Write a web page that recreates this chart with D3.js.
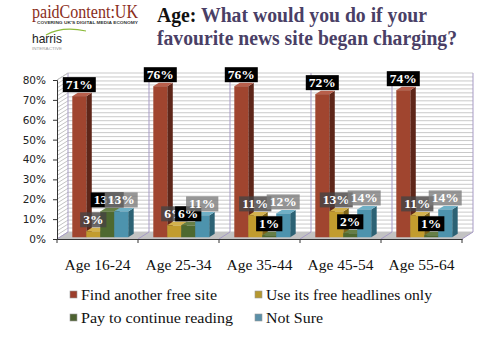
<!DOCTYPE html>
<html><head><meta charset="utf-8">
<script src="https://cdn.jsdelivr.net/npm/d3@7"></script>
<style>body{margin:0;background:#fff}svg{display:block}</style>
</head><body>
<svg id="c" width="500" height="339"></svg>
<script>
const categories = ["Age 16-24","Age 25-34","Age 35-44","Age 45-54","Age 55-64"];
const seriesNames = ["Find another free site","Use its free headlines only","Pay to continue reading","Not Sure"];
const findAnother = [71,76,76,72,74];
const headlinesOnly = [3,6,11,13,11];
const payToContinue = [13,6,1,2,1];
const notSure = [13,11,12,14,14];
const yTicks = [0,10,20,30,40,50,60,70,80];
const yTickLabels = ["0%","10%","20%","30%","40%","50%","60%","70%","80%"];

const SERIF = "'Liberation Serif','Times New Roman',serif";
const seriesValues = [findAnother, headlinesOnly, payToContinue, notSure];
const colors = [
  {front:"#a0452f", side:"#5e2619", top:"#b85f4b", label:"#000"},
  {front:"#c29c2e", side:"#7f6418", top:"#d4b24e", label:"rgba(70,66,66,0.8)"},
  {front:"#4e6930", side:"#2e401a", top:"#667f46", label:"#000"},
  {front:"#4d93ad", side:"#2c6274", top:"#6fb0c6", label:"rgba(125,125,125,0.8)"}
];
const legendColors = ["#9c3e2c","#b69830","#4d6231","#5b90a8"];

const svg = d3.select("#c");
const DX = 11, DY = -7;
const x0 = d3.scaleBand().domain(categories).range([57, 462]);
const bw = x0.bandwidth();
const x1 = d3.scaleBand().domain(seriesNames).range([bw*0.155, bw*0.845]);
const y = d3.scaleLinear().domain([0, 80]).range([239, 80]);

function fit(sel, w){ const n = sel.node(); const cur = n.getComputedTextLength(); if (Math.abs(cur-w)>1.5) sel.attr("textLength", w).attr("lengthAdjust","spacingAndGlyphs"); }

const g = svg.append("g");
const wallL = x0.range()[0] + DX, wallR = x0.range()[1] + DX;
g.append("rect").attr("x", wallL).attr("y", y(80)+DY).attr("width", wallR-wallL).attr("height", y(0)-y(80)).attr("fill","#fff");
const grid = d3.range(0, 80.01, 2);
g.selectAll(".gw").data(grid).enter().append("line")
  .attr("x1", wallL).attr("x2", wallR)
  .attr("y1", d=>y(d)+DY).attr("y2", d=>y(d)+DY)
  .attr("stroke","#c9c9c9").attr("stroke-width",1);
g.selectAll(".gl").data(grid).enter().append("line")
  .attr("x1", x0.range()[0]).attr("x2", wallL)
  .attr("y1", d=>y(d)).attr("y2", d=>y(d)+DY)
  .attr("stroke","#c4c4c4").attr("stroke-width",1);
const fl = x0.range()[0], fr = x0.range()[1];
g.append("path").attr("d", `M${fl},${y(0)}L${fr},${y(0)}L${fr+DX},${y(0)+DY}L${fl+DX},${y(0)+DY}Z`)
  .attr("fill","#c3c3c3");
const bounds = categories.map(c=>x0(c)).concat([fr]);
g.selectAll(".vb").data(bounds).enter().append("line")
  .attr("x1", d=>d+DX).attr("x2", d=>d+DX)
  .attr("y1", y(0)+DY).attr("y2", y(80)+DY)
  .attr("stroke","#a79bc6").attr("stroke-width",1);
g.selectAll(".fb").data(bounds).enter().append("line")
  .attr("x1", d=>d).attr("x2", d=>d+DX)
  .attr("y1", y(0)).attr("y2", y(0)+DY)
  .attr("stroke","#a79bc6").attr("stroke-width",1);
g.append("line").attr("x1",fl).attr("y1",y(80)).attr("x2",wallL).attr("y2",y(80)+DY).attr("stroke","#c4c4c4");

const yAxis = d3.axisLeft(y).tickValues(yTicks).tickFormat((d,i)=>yTickLabels[i]).tickSize(4).tickPadding(7);
const ya = svg.append("g").attr("transform",`translate(${fl},0)`).call(yAxis);
ya.attr("font-family",null).attr("font-size",null);
ya.select(".domain").attr("stroke","#333");
ya.selectAll(".tick line").attr("stroke","#333");
ya.selectAll("text").style("font-family","'DejaVu Sans',sans-serif").style("font-size","10.5px").attr("fill","#222");

const xAxis = d3.axisBottom(x0).tickSize(0).tickPadding(20);
const xa = svg.append("g").attr("transform",`translate(0,${y(0)})`).call(xAxis);
xa.attr("font-family",null).attr("font-size",null);
xa.select(".domain").attr("stroke","#333");
xa.selectAll("text").style("font-family",SERIF).style("font-size","15.5px").attr("fill","#111");
xa.selectAll(".bt").data(bounds).enter().append("line")
  .attr("x1",d=>d).attr("x2",d=>d).attr("y1",0).attr("y2",4).attr("stroke","#333");

const zx0 = DX*0.25, zy0 = DY*0.25, bdx = DX*0.5, bdy = DY*0.5;
const labels = [];
categories.forEach((cat, ci) => {
  seriesNames.forEach((s, si) => {
    const v = seriesValues[si][ci];
    const xl = x0(cat) + x1(s) + zx0, xr = xl + x1.bandwidth();
    const yb = y(0) + zy0, yt = y(v) + zy0;
    const c = colors[si];
    const bg = svg.append("g");
    bg.append("path").attr("d",`M${xr},${yt}L${xr+bdx},${yt+bdy}L${xr+bdx},${yb+bdy}L${xr},${yb}Z`).attr("fill",c.side);
    bg.append("path").attr("d",`M${xl},${yt}L${xl+bdx},${yt+bdy}L${xr+bdx},${yt+bdy}L${xr},${yt}Z`).attr("fill",c.top);
    bg.append("rect").attr("x",xl).attr("y",yt).attr("width",xr-xl).attr("height",yb-yt).attr("fill",c.front);
    labels.push({cx:(xl+xr)/2, by: yt+bdy-0.5, text: v+"%", fill: c.label});
  });
});
labels.forEach(l => {
  const lg = svg.append("g");
  const t = lg.append("text").attr("x", l.cx).attr("y", l.by-3.5)
    .attr("text-anchor","middle").style("font-family",SERIF).attr("font-weight","bold")
    .style("font-size","13.5px").attr("fill","#fff").text(l.text);
  const w = t.node().getComputedTextLength() + 6;
  lg.insert("rect","text").attr("x", l.cx - w/2).attr("y", l.by-15).attr("width", w).attr("height", 15).attr("fill", l.fill);
});

const legPos = [[70,300],[255,300],[70,323],[255,323]];
const legW = [136,166,152,57];
seriesNames.forEach((s,i)=>{
  const [lx,ly] = legPos[i];
  svg.append("rect").attr("x",lx).attr("y",ly-9).attr("width",7).attr("height",7)
    .attr("fill",legendColors[i]).attr("stroke","#999").attr("stroke-width",0.6);
  const t = svg.append("text").attr("x",lx+11).attr("y",ly).style("font-family",SERIF)
    .style("font-size","15px").attr("fill","#111").text(s);
  fit(t, legW[i]);
});

const tt = svg.append("text").attr("x",157).attr("y",22).style("font-family",SERIF)
  .attr("font-weight","bold").style("font-size","20px");
tt.append("tspan").attr("fill","#111").text("Age");
tt.append("tspan").attr("fill","#111").text(": ");
tt.append("tspan").attr("fill","#4a3f66").text("What would you do if your");
const t2 = svg.append("text").attr("x",157).attr("y",45).style("font-family",SERIF)
  .attr("font-weight","bold").style("font-size","20px").attr("fill","#4a3f66")
  .text("favourite news site began charging?");
fit(tt, 270); fit(t2, 300);

const p = svg.append("text").attr("x",32).attr("y",18).style("font-family",SERIF)
  .style("font-size","19px").attr("fill","#8a2d1b").text("paidContent:UK");
fit(p, 106);
const ps = svg.append("text").attr("x",37).attr("y",24).style("font-family","'Liberation Sans',sans-serif")
  .attr("font-weight","bold").style("font-size","4px").attr("fill","#333").text("COVERING UK'S DIGITAL MEDIA ECONOMY");
fit(ps, 101);
const h = svg.append("text").attr("x",32).attr("y",43).style("font-family","'Liberation Sans',sans-serif")
  .style("font-size","13px").attr("fill","#222").text("harris");
fit(h, 30);
svg.append("path").attr("d","M46,35 Q62,26 86,31").attr("fill","none").attr("stroke","#8dbb3c").attr("stroke-width",1.2);
const hi = svg.append("text").attr("x",32).attr("y",50).style("font-family","'Liberation Sans',sans-serif")
  .style("font-size","3.5px").attr("fill","#999").text("INTERACTIVE");
fit(hi, 30);
</script>
</body></html>
